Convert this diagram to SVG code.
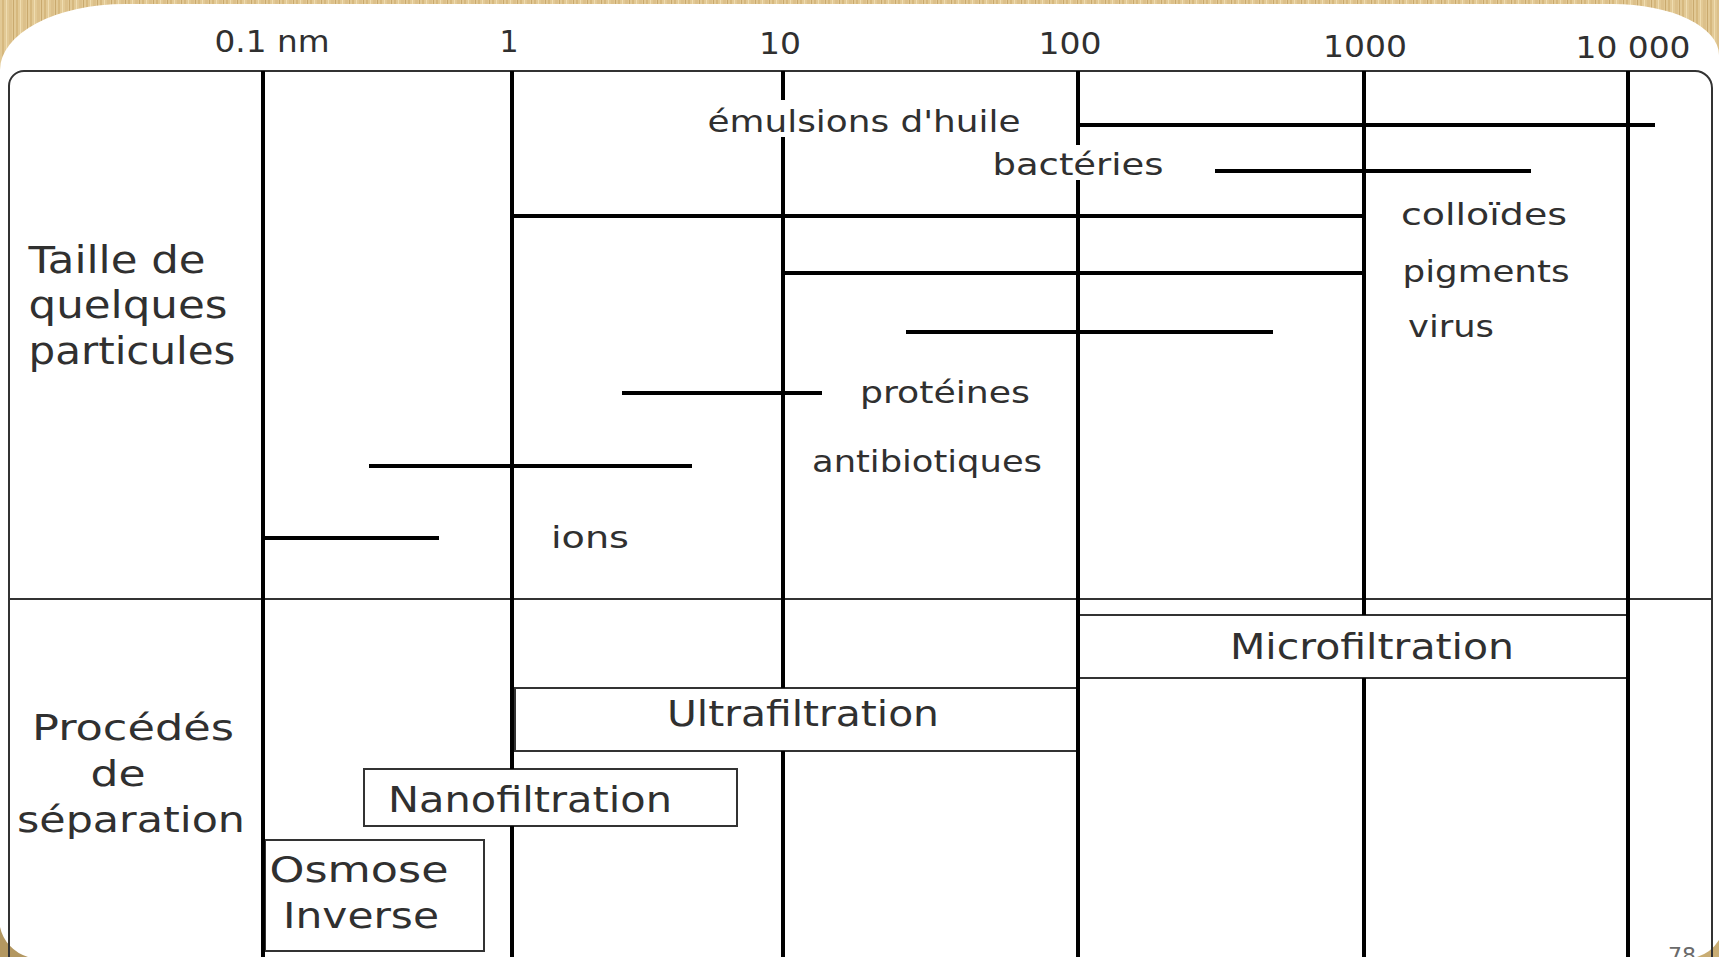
<svg xmlns="http://www.w3.org/2000/svg" width="1719" height="957" viewBox="0 0 1719 957">
  <defs>
    <!-- wood grain behind the slide page -->
    <pattern id="wood" patternUnits="userSpaceOnUse" width="14" height="957">
      <rect width="14" height="957" fill="#e2c995"/>
      <rect x="2" width="2" height="957" fill="#d6b87e"/>
      <rect x="6" width="1" height="957" fill="#efdcb0"/>
      <rect x="9" width="3" height="957" fill="#dcc08a"/>
      <rect x="13" width="1" height="957" fill="#c9a96e"/>
    </pattern>
    <style>
      .t { font-family: "DejaVu Sans", "Liberation Sans", sans-serif; fill: #303030; text-anchor: middle; }
      .ax { font-size: 30px; }
      .side { font-size: 37px; }
      .part { font-size: 30px; }
      .proc { font-size: 36px; }
      .grid { stroke: #000; stroke-width: 4; fill: none; }
      .bar { stroke: #000; stroke-width: 4; stroke-linecap: butt; }
      .thin { stroke: #333; stroke-width: 2; fill: none; }
      .box { stroke: #333; stroke-width: 2; fill: #fff; }
    </style>
  </defs>

  <!-- white page with wood showing only at the rounded corners -->
  <g id="background">
    <rect width="1719" height="957" fill="#fff"/>
    <rect width="1719" height="4" fill="url(#wood)"/>
    <path d="M0,0 H130 V4 H125 A125,66 0 0 0 0,70 Z" fill="url(#wood)"/>
    <path d="M1719,0 V55 A106,51 0 0 0 1613,4 V0 Z" fill="url(#wood)"/>
    <path d="M0,957 H28 A40,40 0 0 1 0,927 Z" fill="#b39760"/>
    <path d="M1719,957 H1697 A40,40 0 0 0 1719,940 Z" fill="#c9ad74"/>
  </g>

  <!-- table frame and row divider -->
  <g id="frame">
    <path class="thin" d="M9,1000 L9,86 A15,15 0 0 1 24,71 L1695,71 A17,17 0 0 1 1712,88 L1712,1000"/>
    <line class="thin" x1="9" y1="599" x2="1712" y2="599"/>
  </g>

  <!-- separation process boxes -->
  <g id="microfiltration">
    <rect class="box" x="1078" y="615" width="550" height="63"/>
    <text class="t proc" x="1372" y="659" textLength="284" lengthAdjust="spacingAndGlyphs">Microfiltration</text>
  </g>
  <g id="ultrafiltration">
    <rect class="box" x="515" y="688" width="563" height="63"/>
    <text class="t proc" x="803" y="726" textLength="272" lengthAdjust="spacingAndGlyphs">Ultrafiltration</text>
  </g>
  <g id="nanofiltration">
    <rect class="box" x="364" y="769" width="373" height="57"/>
    <text class="t proc" x="530" y="812" textLength="284" lengthAdjust="spacingAndGlyphs">Nanofiltration</text>
  </g>
  <g id="osmose-inverse">
    <rect class="box" x="265" y="840" width="219" height="111"/>
    <text class="t proc" x="359" y="882" textLength="179" lengthAdjust="spacingAndGlyphs">Osmose</text>
    <text class="t proc" x="361" y="928" textLength="156" lengthAdjust="spacingAndGlyphs">Inverse</text>
  </g>

  <!-- decade grid lines (split where labels or boxes sit on them) -->
  <g id="connectors">
    <line class="grid" x1="263" y1="71" x2="263" y2="957"/>
    <line class="grid" x1="512" y1="71" x2="512" y2="769"/>
    <line class="grid" x1="512" y1="826" x2="512" y2="957"/>
    <line class="grid" x1="783" y1="71" x2="783" y2="100"/>
    <line class="grid" x1="783" y1="137" x2="783" y2="688"/>
    <line class="grid" x1="783" y1="751" x2="783" y2="957"/>
    <line class="grid" x1="1078" y1="71" x2="1078" y2="145"/>
    <line class="grid" x1="1078" y1="180" x2="1078" y2="957"/>
    <line class="grid" x1="1364" y1="71" x2="1364" y2="615"/>
    <line class="grid" x1="1364" y1="678" x2="1364" y2="957"/>
    <line class="grid" x1="1628" y1="71" x2="1628" y2="957"/>
  </g>

  <!-- scale labels -->
  <g id="scale">
    <text class="t ax" x="272" y="52" textLength="115" lengthAdjust="spacingAndGlyphs">0.1 nm</text>
    <text class="t ax" x="509" y="52">1</text>
    <text class="t ax" x="780" y="54" textLength="42" lengthAdjust="spacingAndGlyphs">10</text>
    <text class="t ax" x="1070" y="54" textLength="63" lengthAdjust="spacingAndGlyphs">100</text>
    <text class="t ax" x="1365" y="57" textLength="84" lengthAdjust="spacingAndGlyphs">1000</text>
    <text class="t ax" x="1633" y="58" textLength="115" lengthAdjust="spacingAndGlyphs">10 000</text>
  </g>

  <!-- row headings -->
  <g id="heading-particules">
    <text class="t side" x="117" y="273" textLength="177" lengthAdjust="spacingAndGlyphs">Taille de</text>
    <text class="t side" x="128" y="318" textLength="199" lengthAdjust="spacingAndGlyphs">quelques</text>
    <text class="t side" x="132" y="364" textLength="207" lengthAdjust="spacingAndGlyphs">particules</text>
  </g>
  <g id="heading-procedes">
    <text class="t proc" x="133" y="740" textLength="202" lengthAdjust="spacingAndGlyphs">Procédés</text>
    <text class="t proc" x="118" y="786" textLength="55" lengthAdjust="spacingAndGlyphs">de</text>
    <text class="t proc" x="131" y="832" textLength="228" lengthAdjust="spacingAndGlyphs">séparation</text>
  </g>

  <!-- particle size ranges -->
  <g id="emulsions">
    <line class="bar" x1="1078" y1="125" x2="1655" y2="125"/>
    <text class="t part" x="864" y="132" textLength="313" lengthAdjust="spacingAndGlyphs">émulsions d'huile</text>
  </g>
  <g id="bacteries">
    <line class="bar" x1="1215" y1="171" x2="1531" y2="171"/>
    <text class="t part" x="1078" y="175" textLength="171" lengthAdjust="spacingAndGlyphs">bactéries</text>
  </g>
  <g id="colloides">
    <line class="bar" x1="512" y1="216" x2="1364" y2="216"/>
    <text class="t part" x="1484" y="225" textLength="166" lengthAdjust="spacingAndGlyphs">colloïdes</text>
  </g>
  <g id="pigments">
    <line class="bar" x1="783" y1="273" x2="1364" y2="273"/>
    <text class="t part" x="1486" y="282" textLength="167" lengthAdjust="spacingAndGlyphs">pigments</text>
  </g>
  <g id="virus">
    <line class="bar" x1="906" y1="332" x2="1273" y2="332"/>
    <text class="t part" x="1451" y="337" textLength="86" lengthAdjust="spacingAndGlyphs">virus</text>
  </g>
  <g id="proteines">
    <line class="bar" x1="622" y1="393" x2="822" y2="393"/>
    <text class="t part" x="945" y="403" textLength="170" lengthAdjust="spacingAndGlyphs">protéines</text>
  </g>
  <g id="antibiotiques">
    <line class="bar" x1="369" y1="466" x2="692" y2="466"/>
    <text class="t part" x="927" y="472" textLength="230" lengthAdjust="spacingAndGlyphs">antibiotiques</text>
  </g>
  <g id="ions">
    <line class="bar" x1="263" y1="538" x2="439" y2="538"/>
    <text class="t part" x="590" y="548" textLength="78" lengthAdjust="spacingAndGlyphs">ions</text>
  </g>

  <!-- slide number -->
  <text x="1668" y="963" font-family="DejaVu Sans, sans-serif" font-size="22" fill="#6a6a6a">78</text>
</svg>
